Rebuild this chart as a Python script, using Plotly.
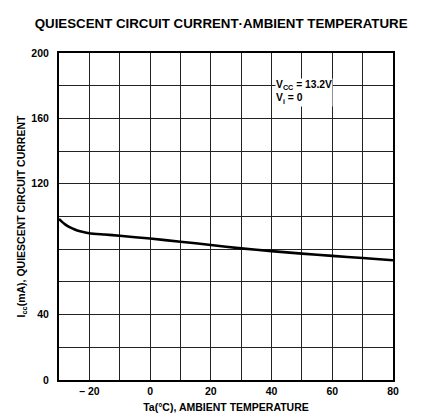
import plotly.graph_objects as go

temp_c = [-30, -29.5, -29, -28, -27, -26, -25, -24, -22, -20, -15, -10, 0, 10, 20, 30, 40, 50, 60, 70, 80]
icc_ma = [98.5, 97.6, 96.7, 95.2, 94.0, 93.0, 92.2, 91.5, 90.5, 89.8, 89.0, 88.2, 86.5, 84.6, 82.6, 80.5, 78.8, 77.3, 75.9, 74.6, 73.2]

x_ticks = [-20, 0, 20, 40, 60, 80]
x_ticktext = ["\u2013 20", "0", "20", "40", "60", "80"]
x_grid = list(range(-30, 81, 10))
y_ticks = [0, 40, 120, 160, 200]
y_ticktext = ["0", "40", "120", "160", "200"]
y_grid = list(range(0, 201, 20))

FONT = "Liberation Sans"

fig = go.Figure()
fig.add_trace(go.Scatter(x=temp_c, y=icc_ma, mode="lines",
                         line=dict(color="black", width=2.6, shape="spline", smoothing=0.6),
                         showlegend=False, hoverinfo="skip"))

fig.add_annotation(x=41.2, y=176.0, xref="x", yref="y", xanchor="left", yanchor="middle",
                   align="left",
                   text="<b>V<sub>CC</sub> = 13.2V</b><br><b>V<sub>i</sub> = 0</b>", showarrow=False,
                   font=dict(family=FONT, size=10.3, color="black"), bgcolor="white", borderpad=0)

fig.update_layout(
    width=422, height=417,
    margin=dict(l=51, r=37, t=45, b=45),
    paper_bgcolor="white", plot_bgcolor="white",
    title=dict(text="<b>QUIESCENT CIRCUIT CURRENT\u00b7AMBIENT TEMPERATURE</b>",
               x=0.505, xanchor="center", y=0.964, yanchor="middle",
               font=dict(family=FONT, size=13.3, color="black")),
    font=dict(family=FONT, color="black"),
)
fig.update_xaxes(range=[-30, 80], tickvals=x_ticks, ticktext=["<b>%s</b>" % t for t in x_ticktext],
                 automargin=False,
                 showgrid=True, gridcolor="#222", gridwidth=1,
                 minor=dict(tickvals=x_grid, showgrid=True, gridcolor="#222", gridwidth=1, ticks=""),
                 showline=True, linecolor="black", linewidth=2, mirror=True,
                 ticks="", zeroline=False,
                 tickfont=dict(family=FONT, size=10.5, color="black"),
                 title=dict(text="<b>Ta(°C), AMBIENT TEMPERATURE</b>", standoff=8,
                            font=dict(family=FONT, size=10.5, color="black")))
fig.update_yaxes(range=[0, 200], tickvals=y_ticks, ticktext=["<b>%s</b>" % t for t in y_ticktext],
                 automargin=False, ticklabelstandoff=6,
                 showgrid=True, gridcolor="#222", gridwidth=1,
                 minor=dict(tickvals=y_grid, showgrid=True, gridcolor="#222", gridwidth=1, ticks=""),
                 showline=True, linecolor="black", linewidth=2, mirror=True,
                 ticks="", zeroline=False,
                 tickfont=dict(family=FONT, size=10.5, color="black"),
                 title=dict(text="<b>I<sub>cc</sub>(mA), QUIESCENT CIRCUIT CURRENT</b>", standoff=4,
                            font=dict(family=FONT, size=10.5, color="black")))

fig.write_html("out.html")
